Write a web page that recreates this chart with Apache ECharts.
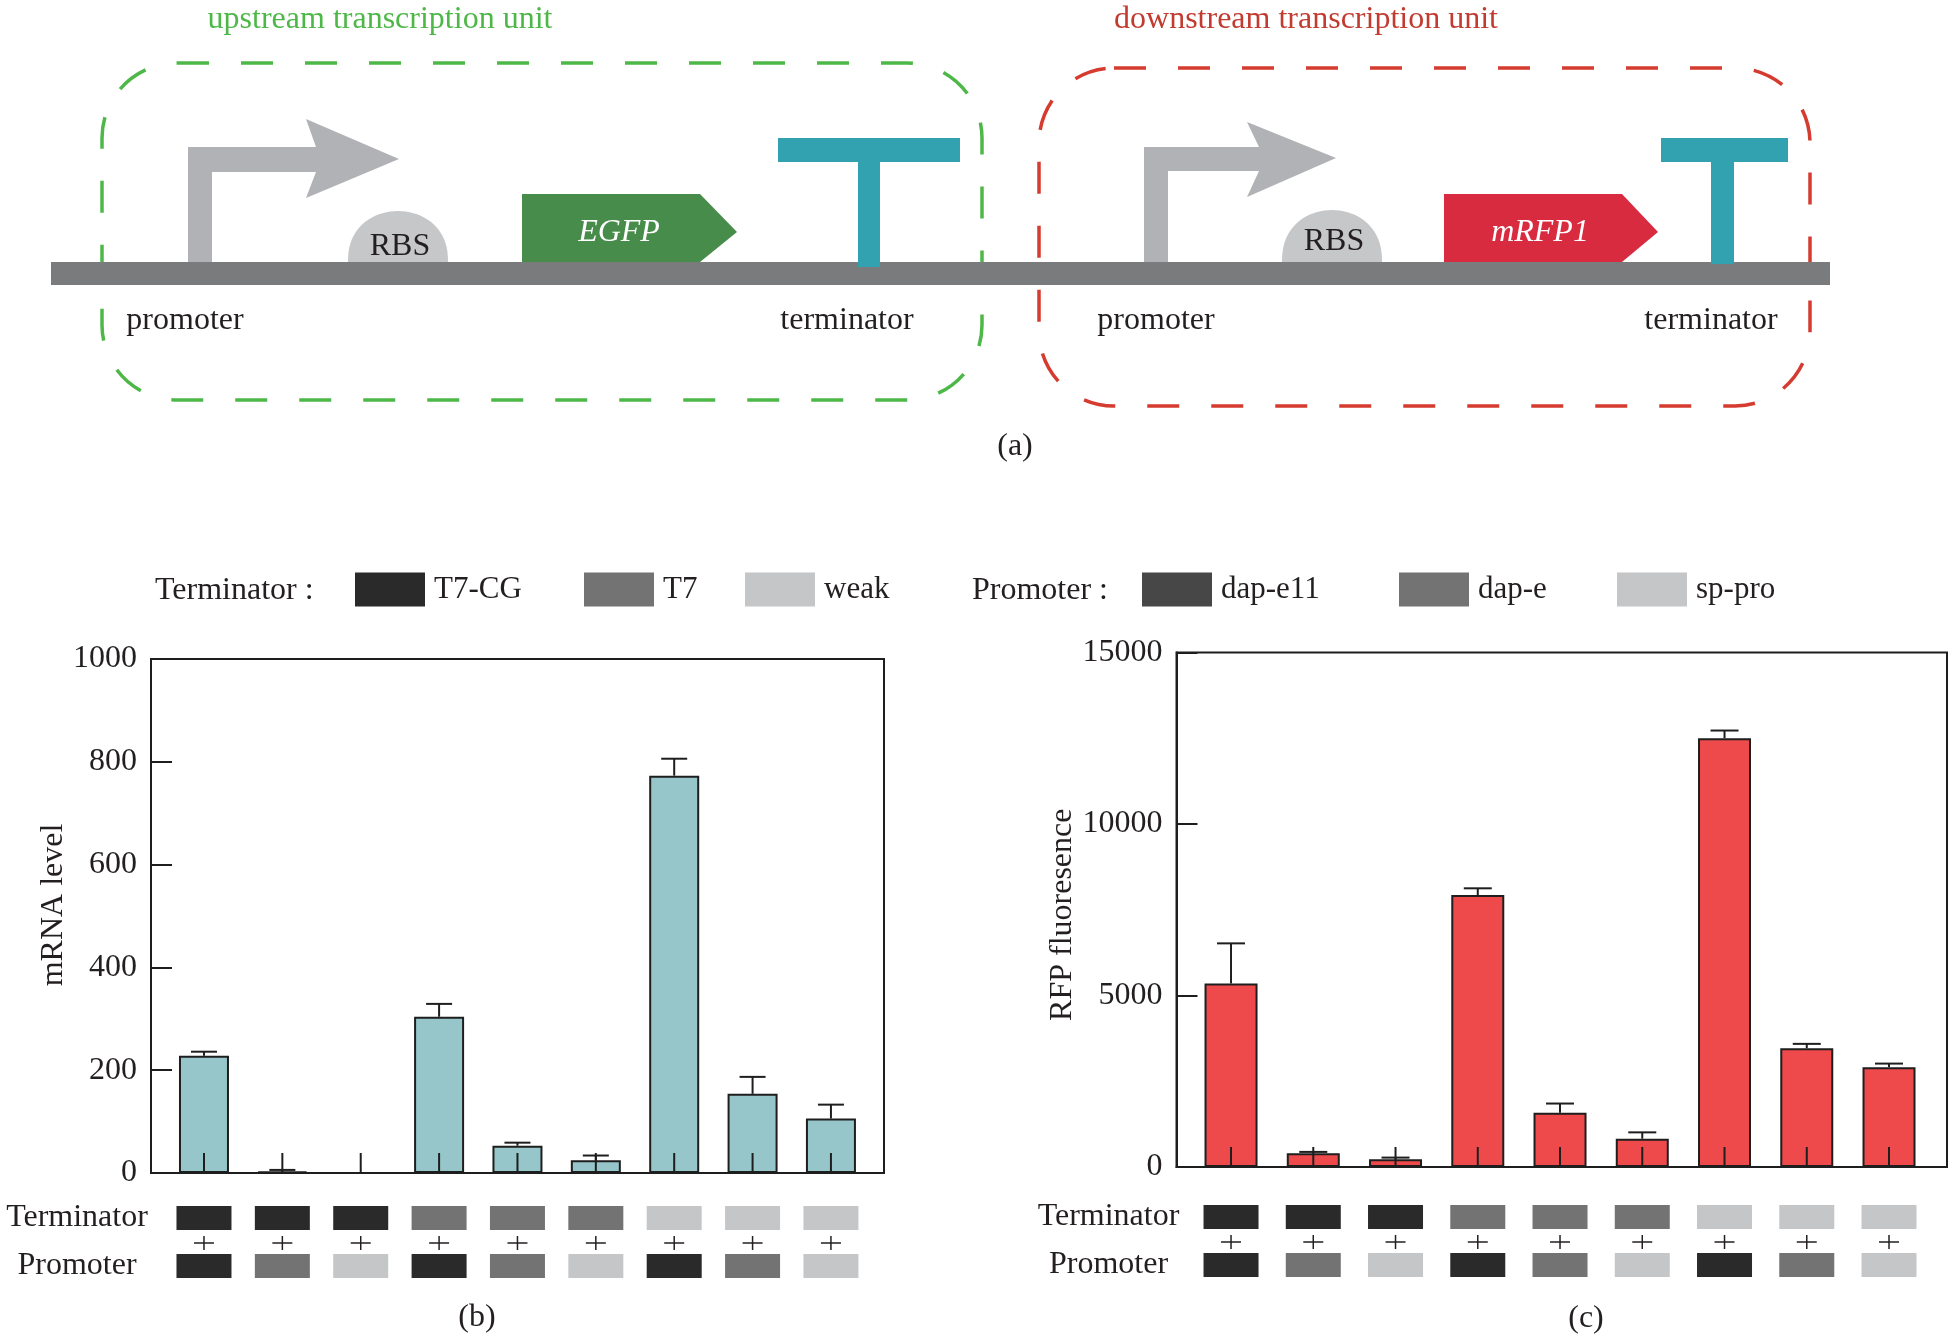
<!DOCTYPE html>
<html><head><meta charset="utf-8">
<script src="https://cdn.jsdelivr.net/npm/echarts@6/dist/echarts.min.js"></script>
<style>html,body{margin:0;padding:0;background:#fff}#c{width:1951px;height:1337px}</style>
</head><body><div id="c"></div>
<script>
// ---------------- data ----------------
const terminators = ['T7-CG','T7-CG','T7-CG','T7','T7','T7','weak','weak','weak'];
const promoters   = ['dap-e11','dap-e','sp-pro','dap-e11','dap-e','sp-pro','dap-e11','dap-e','sp-pro'];
const mrnaLevel   = [228, 3, 0, 304, 53, 25, 773, 154, 106];
const mrnaError   = [8, 3, 0, 25, 6, 9, 33, 33, 27];
const rfpValue    = [5350, 400, 224, 7930, 1580, 825, 12500, 3465, 2910];
const rfpError    = [1170, 40, 50, 195, 270, 185, 225, 125, 105];
const terminatorTypes = ['T7-CG','T7','weak'];
const promoterTypes   = ['dap-e11','dap-e','sp-pro'];
const rowLabels = ['Promoter','Terminator'];
const mrnaTicks = {min:0, max:1000, interval:200};
const rfpTicks  = {min:0, max:15000, interval:5000};

// ---------------- styles / layout ----------------
const FONT = '"Liberation Serif", "Times New Roman", serif';
const INK = '#231f20';
const LINE = '#1e1e1e';
const levelColors = ['#2b2a2b', '#737373', '#c5c6c8'];
const legendColorsT = ['#2b2a2b', '#737373', '#c5c6c8'];
const legendColorsP = ['#474748', '#737373', '#c5c6c8'];
const legendLeftT = [355, 584, 745];
const legendLeftP = [1142, 1399, 1617];
const TXT_PAD = [6, 0, 0, 0];
const CLEAR = 'rgba(255,255,255,0)';

const L = {
  b: {left:151, top:659, width:733, height:514, xmin:-0.676, xmax:8.677, barW:50, cap:26, color:'#96c6ca'},
  c: {left:1176.5, top:652.5, width:770.5, height:514.5, xmin:-0.663, xmax:8.705, barW:53, cap:28, color:'#ee4a4b'}
};

const chart = echarts.init(document.getElementById('c'), null, {renderer:'canvas'});

function errRender(capW){
  return function(params, api){
    const i = api.value(0), v = api.value(1), e = api.value(2);
    const base = api.coord([i, 0]);
    const top = api.coord([i, v]);
    const hi = api.coord([i, v + e]);
    const st = {stroke: LINE, lineWidth: 2};
    const ch = [{type:'line', shape:{x1:base[0], y1:base[1], x2:base[0], y2:base[1]-20}, style:st}];
    if (e > 0) {
      ch.push({type:'line', shape:{x1:top[0], y1:top[1], x2:hi[0], y2:hi[1]}, style:st});
      ch.push({type:'line', shape:{x1:hi[0]-capW/2, y1:hi[1], x2:hi[0]+capW/2, y2:hi[1]}, style:st});
    }
    return {type:'group', children: ch};
  };
}
function indRender(params, api){
  const idx = params.dataIndex;
  const i = api.value(0);
  const t = api.coord([i, 1]);
  const p = api.coord([i, 0]);
  const w = 55, h = 24;
  const tc = levelColors[terminatorTypes.indexOf(terminators[idx])];
  const pc = levelColors[promoterTypes.indexOf(promoters[idx])];
  const mx = t[0], my = (t[1] + p[1]) / 2 + 1;
  const st = {stroke: INK, lineWidth: 1.5};
  return {type:'group', children:[
    {type:'rect', shape:{x:t[0]-w/2, y:t[1]-h/2, width:w, height:h}, style:{fill:tc}},
    {type:'rect', shape:{x:p[0]-w/2, y:p[1]-h/2, width:w, height:h}, style:{fill:pc}},
    {type:'line', shape:{x1:mx-10, y1:my, x2:mx+10, y2:my}, style:st},
    {type:'line', shape:{x1:mx, y1:my-7, x2:mx, y2:my+7}, style:st}
  ]};
}

function mainX(g){
  return {type:'value', gridIndex:g.gi, min:g.xmin, max:g.xmax, axisLine:{show:true, onZero:false, lineStyle:{color:LINE, width:2}},
    axisTick:{show:false}, axisLabel:{show:false}, splitLine:{show:false}};
}
function mainY(gi, ticks, name, gap, pad){
  return {type:'value', gridIndex:gi, min:ticks.min, max:ticks.max, interval:ticks.interval,
    name:name, nameLocation:'middle', nameGap:gap, nameTextStyle:{fontFamily:FONT, fontSize:32, color:INK, padding:pad},
    axisLine:{show:true, onZero:false, lineStyle:{color:LINE, width:2}},
    axisTick:{show:true, inside:true, length:21, lineStyle:{color:LINE, width:2}},
    axisLabel:{fontFamily:FONT, fontSize:32, color:INK, margin:14, padding:TXT_PAD, backgroundColor:CLEAR, formatter: v => String(v)},
    splitLine:{show:false}};
}
function indX(g, gi){
  return {type:'value', gridIndex:gi, min:g.xmin, max:g.xmax, show:false};
}
function indY(gi, margin){
  return {type:'category', gridIndex:gi, data:rowLabels, axisLine:{show:false}, axisTick:{show:false},
    axisLabel:{fontFamily:FONT, fontSize:32, color:INK, margin:margin, align:'center', padding:TXT_PAD, backgroundColor:CLEAR}};
}
L.b.gi = 0; L.c.gi = 1;

function dome(cx, base, rx, h){
  const pts = [];
  for (let k = 0; k <= 40; k++) { const t = Math.PI * k / 40; pts.push([cx - rx*Math.cos(t), base - h*Math.pow(Math.sin(t), 0.85)]); }
  return pts;
}
function txt(x, y, s, opt){
  opt = opt || {};
  return {type:'text', x:x, y:y + 3, z:10, style:{text:s, fill:opt.fill || INK, font:(opt.italic?'italic ':'') + (opt.size||32) + 'px ' + FONT,
    align:opt.align || 'center', verticalAlign:'middle'}};
}
const GREY = '#b1b2b5', TEAL = '#33a2b0';
const graphics = [
  // dashed unit boxes
  {type:'rect', shape:{x:102, y:63, width:880, height:337, r:75}, style:{fill:'none', stroke:'#4db848', lineWidth:3.5, lineDash:[32,32]}},
  {type:'rect', shape:{x:1039, y:68, width:771, height:338, r:75}, style:{fill:'none', stroke:'#d63b2f', lineWidth:3.5, lineDash:[32,32]}},
  // backbone
  {type:'rect', shape:{x:51, y:262, width:1779, height:23}, style:{fill:'#7a7b7d'}},
  // promoters
  {type:'polygon', shape:{points:[[188,262],[188,147],[316,147],[306,119],[399,159],[306,198],[316,172],[212,172],[212,262]]}, style:{fill:GREY}},
  {type:'polygon', shape:{points:[[1144,262],[1144,147],[1259,147],[1247,122],[1336,158],[1247,197],[1259,171],[1168,171],[1168,262]]}, style:{fill:GREY}},
  // RBS
  {type:'polygon', shape:{points:dome(398, 262, 50, 51)}, style:{fill:'#c6c7c9'}},
  {type:'polygon', shape:{points:dome(1332, 262, 50, 52)}, style:{fill:'#c6c7c9'}},
  // genes
  {type:'polygon', shape:{points:[[522,194],[700,194],[737,232],[700,262],[522,262]]}, style:{fill:'#478c4a'}},
  {type:'polygon', shape:{points:[[1444,194],[1622,194],[1658,232],[1622,262],[1444,262]]}, style:{fill:'#d92b40'}},
  // terminators
  {type:'rect', shape:{x:778, y:138, width:182, height:24}, style:{fill:TEAL}},
  {type:'rect', shape:{x:858, y:160, width:22, height:107}, style:{fill:TEAL}},
  {type:'rect', shape:{x:1661, y:138, width:127, height:24}, style:{fill:TEAL}},
  {type:'rect', shape:{x:1711, y:160, width:23, height:104}, style:{fill:TEAL}},
  // texts
  txt(380, 17, 'upstream transcription unit', {fill:'#4db848'}),
  txt(1306, 17, 'downstream transcription unit', {fill:'#c23b31'}),
  txt(400, 244, 'RBS'), txt(1334, 239, 'RBS'),
  txt(619, 230, 'EGFP', {fill:'#ffffff', italic:true}),
  txt(1540, 230, 'mRFP1', {fill:'#ffffff', italic:true}),
  txt(185, 318, 'promoter'), txt(847, 318, 'terminator'),
  txt(1156, 318, 'promoter'), txt(1711, 318, 'terminator'),
  txt(1015, 444, '(a)'),
  txt(155, 588, 'Terminator :', {align:'left'}),
  txt(972, 588, 'Promoter :', {align:'left'}),
  txt(477, 1315, '(b)'),
  txt(1586, 1316, '(c)')
];

const legends = [];
const dummySeries = [];
function legendOf(n, left){
  return {data:[n], left:left, top:571, padding:0, itemWidth:70, itemHeight:34, icon:'rect', selectedMode:false,
    textStyle:{fontFamily:FONT, fontSize:31, color:INK, padding:[6,0,0,4], backgroundColor:CLEAR}};
}
terminatorTypes.forEach((n, k) => {
  legends.push(legendOf(n, legendLeftT[k]));
  dummySeries.push({type:'scatter', name:n, xAxisIndex:2, yAxisIndex:2, data:[], itemStyle:{color:legendColorsT[k], opacity:1}});
});
promoterTypes.forEach((n, k) => {
  legends.push(legendOf(n, legendLeftP[k]));
  dummySeries.push({type:'scatter', name:n, xAxisIndex:3, yAxisIndex:3, data:[], itemStyle:{color:legendColorsP[k], opacity:1}});
});

const idx = mrnaLevel.map((_, i) => i);
const option = {
  animation:false,
  backgroundColor:'#ffffff',
  graphic: graphics,
  legend: legends,
  grid: [
    {left:L.b.left, top:L.b.top, width:L.b.width, height:L.b.height, show:true, borderColor:LINE, borderWidth:2},
    {left:L.c.left, top:L.c.top, width:L.c.width, height:L.c.height, show:true, borderColor:LINE, borderWidth:2},
    {left:L.b.left, top:1194, width:L.b.width, height:96},
    {left:L.c.left, top:1193, width:L.c.width, height:96}
  ],
  xAxis: [mainX(L.b), mainX(L.c), indX(L.b, 2), indX(L.c, 3)],
  yAxis: [
    mainY(0, mrnaTicks, 'mRNA level', 67, [0,0,0,22]),
    mainY(1, rfpTicks, 'RFP fluoresence', 98, [0,10,0,0]),
    indY(2, 74), indY(3, 68)
  ],
  series: [
    {type:'bar', xAxisIndex:0, yAxisIndex:0, barWidth:L.b.barW, data: idx.map(i => [i, mrnaLevel[i]]),
      itemStyle:{color:L.b.color, borderColor:LINE, borderWidth:2}},
    {type:'custom', xAxisIndex:0, yAxisIndex:0, z:5, renderItem: errRender(L.b.cap), data: idx.map(i => [i, mrnaLevel[i], mrnaError[i]])},
    {type:'bar', xAxisIndex:1, yAxisIndex:1, barWidth:L.c.barW, data: idx.map(i => [i, rfpValue[i]]),
      itemStyle:{color:L.c.color, borderColor:LINE, borderWidth:2}},
    {type:'custom', xAxisIndex:1, yAxisIndex:1, z:5, renderItem: errRender(L.c.cap), data: idx.map(i => [i, rfpValue[i], rfpError[i]])},
    {type:'custom', xAxisIndex:2, yAxisIndex:2, renderItem: indRender, data: idx.map(i => [i, 1])},
    {type:'custom', xAxisIndex:3, yAxisIndex:3, renderItem: indRender, data: idx.map(i => [i, 1])}
  ].concat(dummySeries)
};
chart.setOption(option);
</script>
</body></html>
